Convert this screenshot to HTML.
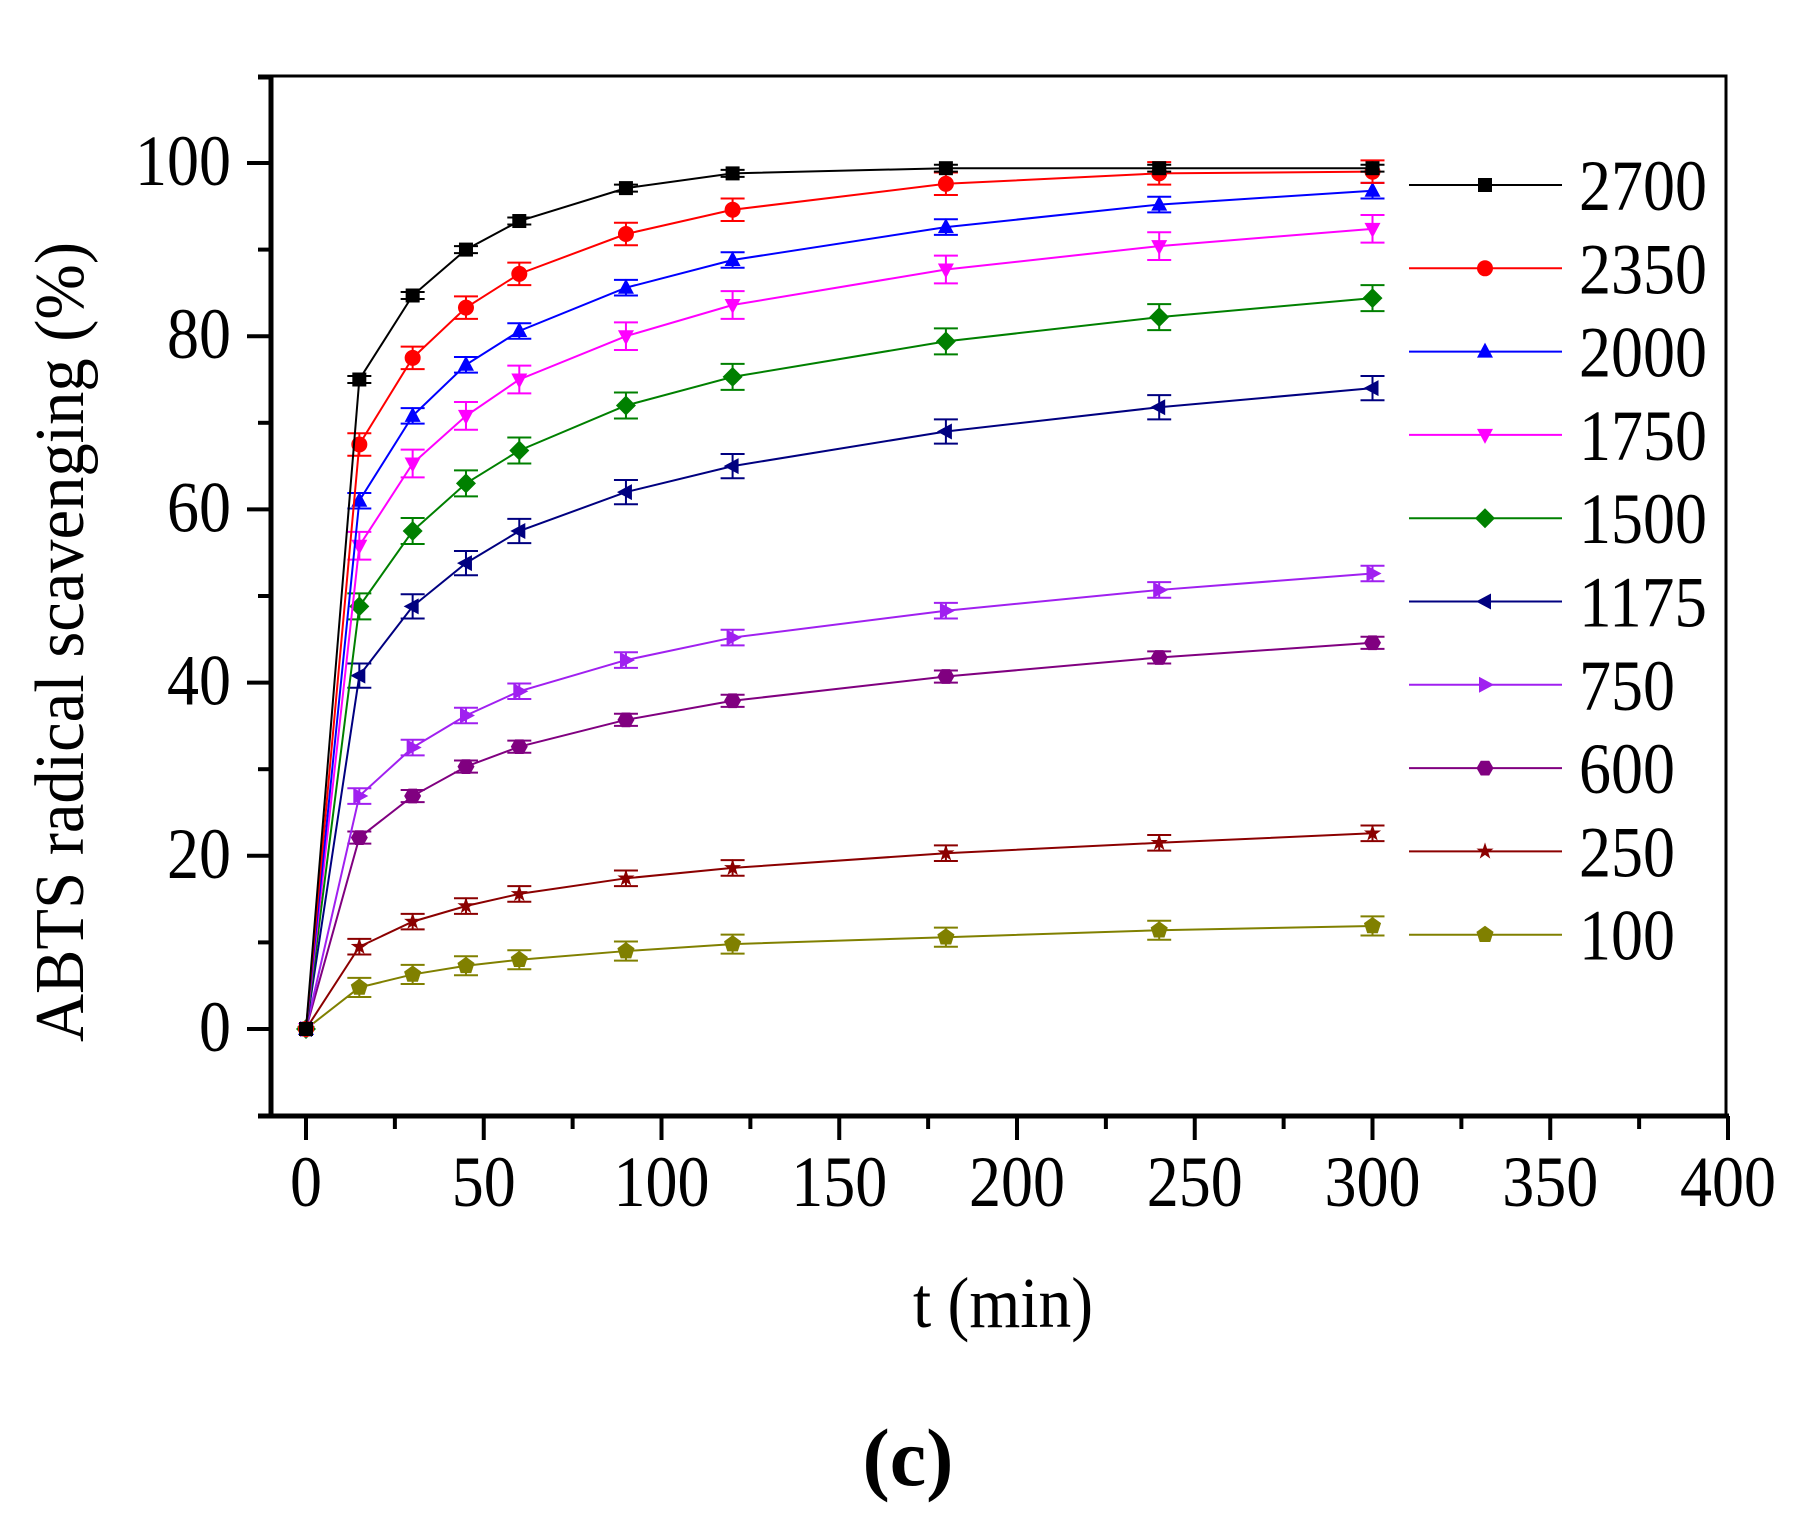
<!DOCTYPE html>
<html><head><meta charset="utf-8"><style>
html,body{margin:0;padding:0;background:#fff;}
svg{display:block;font-family:"Liberation Serif",serif;}
</style></head><body>
<svg id="s" width="1805" height="1521" viewBox="0 0 1805 1521" xmlns="http://www.w3.org/2000/svg">
<rect width="1805" height="1521" fill="#fff"/>
<g id="plot"></g>
<text x="60" y="642" font-size="70" text-anchor="middle" textLength="800" lengthAdjust="spacingAndGlyphs" transform="rotate(-90 60 642) translate(0 23)">ABTS radical scavenging (%)</text>
<text x="1003" y="1327" font-size="72" text-anchor="middle" textLength="180" lengthAdjust="spacingAndGlyphs">t (min)</text>
<text x="908" y="1485" font-size="82" font-weight="bold" text-anchor="middle">(c)</text>
</svg>
<script>
var g=document.getElementById('plot');var h='';
function X(v){return 306+v*3.555;}function Y(v){return 1029-v*8.66;}
h+='<path d="M271 76 H1726 V1116" fill="none" stroke="#000" stroke-width="3"/>';
h+='<path d="M258 1116 H1729 M258 77 H271" stroke="#000" stroke-width="5" fill="none"/>';
h+='<path d="M271 76 V1116" stroke="#000" stroke-width="5"/>';
for(var v=0;v<=400;v+=25){var big=v%50==0;h+='<line x1="'+X(v)+'" y1="1116" x2="'+X(v)+'" y2="'+(big?1140:1129)+'" stroke="#000" stroke-width="4"/>';
if(big)h+='<text x="'+X(v)+'" y="1206" font-size="72" text-anchor="middle" textLength="'+(String(v).length*32)+'" lengthAdjust="spacingAndGlyphs">'+v+'</text>';}
for(var v=0;v<=100;v+=10){var big=v%20==0;h+='<line x1="'+(big?247:258)+'" y1="'+Y(v)+'" x2="271" y2="'+Y(v)+'" stroke="#000" stroke-width="4"/>';
if(big)h+='<text x="231" y="'+(Y(v)+22)+'" font-size="72" text-anchor="end" textLength="'+(String(v).length*32)+'" lengthAdjust="spacingAndGlyphs">'+v+'</text>';}
var xs=[0,15,30,45,60,90,120,180,240,300];
var S=[
["2700","#000","sq",[0,75,84.7,90,93.3,97.1,98.8,99.4,99.4,99.4],0.4],
["2350","#f00","ci",[0,67.5,77.5,83.3,87.2,91.8,94.6,97.6,98.8,99],1.3],
["2000","#00f","tu",[0,61,70.8,76.7,80.6,85.6,88.8,92.6,95.2,96.8],0.9],
["1750","#f0f","td",[0,55.8,65.3,70.8,75,80,83.6,87.7,90.4,92.4],1.6],
["1500","#008000","di",[0,48.8,57.5,63,66.8,72,75.3,79.4,82.2,84.4],1.5],
["1175","#000080","tl",[0,40.8,48.8,53.8,57.5,62,65,69,71.8,74],1.4],
["750","#a020f0","tr",[0,26.9,32.5,36.2,39,42.6,45.2,48.3,50.7,52.6],0.9],
["600","#800080","hx",[0,22.1,26.9,30.3,32.6,35.7,37.9,40.7,42.9,44.6],0.7],
["250","#8b0000","st",[0,9.5,12.4,14.2,15.6,17.4,18.6,20.3,21.5,22.6],0.9],
["100","#808000","pe",[0,4.8,6.3,7.3,8,9,9.8,10.6,11.4,11.9],1.1]];
function mk(t,x,y,c){
if(t=="sq")return '<rect x="'+(x-7)+'" y="'+(y-7)+'" width="14" height="14" fill="'+c+'"/>';
if(t=="ci")return '<circle cx="'+x+'" cy="'+y+'" r="8" fill="'+c+'"/>';
var p;
if(t=="tu")p=[[0,-9],[8,6],[-8,6]];
if(t=="td")p=[[0,9],[8,-6],[-8,-6]];
if(t=="tl")p=[[-9,0],[6,-8],[6,8]];
if(t=="tr")p=[[9,0],[-6,-8],[-6,8]];
if(t=="di")p=[[0,-10],[10,0],[0,10],[-10,0]];
if(t=="hx"){p=[];for(var i=0;i<6;i++){var a=i*Math.PI/3;p.push([8.5*Math.cos(a),8.5*Math.sin(a)]);}}
if(t=="pe"){p=[];for(var i=0;i<5;i++){var a=-Math.PI/2+i*2*Math.PI/5;p.push([9*Math.cos(a),9*Math.sin(a)]);}}
if(t=="st"){p=[];for(var i=0;i<10;i++){var a=-Math.PI/2+i*Math.PI/5;var rr=i%2?3.5:9;p.push([rr*Math.cos(a),rr*Math.sin(a)]);}}
return '<polygon points="'+p.map(function(q){return (x+q[0])+','+(y+q[1]);}).join(' ')+'" fill="'+c+'"/>';}
for(var k=S.length-1;k>=0;k--){var s=S[k];var pts=[];
for(var i=0;i<10;i++)pts.push(X(xs[i])+','+Y(s[3][i]));
h+='<polyline points="'+pts.join(' ')+'" fill="none" stroke="'+s[1]+'" stroke-width="2"/>';
for(var i=1;i<10;i++){var x=X(xs[i]),y=Y(s[3][i]);var e=s[4]*8.66;
h+='<path d="M'+(x-12)+' '+(y-e)+'H'+(x+12)+'M'+x+' '+(y-e)+'V'+(y+e)+'M'+(x-12)+' '+(y+e)+'H'+(x+12)+'" stroke="'+s[1]+'" stroke-width="2" fill="none"/>';}
for(var i=0;i<10;i++)h+=mk(s[2],X(xs[i]),Y(s[3][i]),s[1]);
var ly=185+k*83.3;
h+='<line x1="1409" y1="'+ly+'" x2="1562" y2="'+ly+'" stroke="'+s[1]+'" stroke-width="2"/>'+mk(s[2],1485,ly,s[1]);
h+='<text x="1579" y="'+(ly+25)+'" font-size="72" textLength="'+(s[0].length*32)+'" lengthAdjust="spacingAndGlyphs">'+s[0]+'</text>';}
g.innerHTML=h;
</script>
</body></html>
